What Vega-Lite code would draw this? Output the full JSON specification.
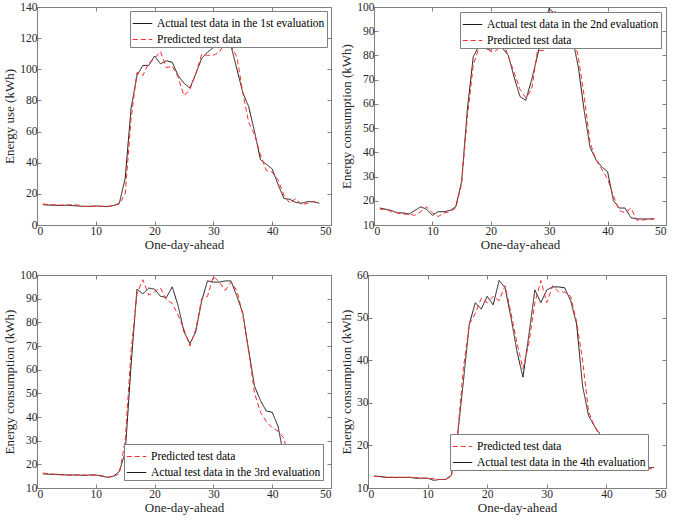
{
  "$schema": "https://vega.github.io/schema/vega-lite/v6.json",
  "background": "white",
  "padding": {"left": 3, "top": 0, "right": 0, "bottom": 2},
  "config": {
    "font": "Liberation Serif, Times New Roman, serif",
    "view": {"stroke": "#808080", "strokeWidth": 1},
    "style": {
      "guide-label": {"font": "Liberation Serif, Times New Roman, serif"},
      "guide-title": {"font": "Liberation Serif, Times New Roman, serif", "fontWeight": "normal"}
    },
    "axis": {
      "domain": false, "grid": false, "tickSize": -4, "tickColor": "#808080",
      "labelFont": "Liberation Serif, Times New Roman, serif", "labelFontSize": 11.5, "labelColor": "#262626",
      "titleFont": "Liberation Serif, Times New Roman, serif", "titleFontSize": 13, "titleFontWeight": "normal", "titleColor": "#262626",
      "labelPadding": 4
    },
    "legend": {
      "labelFont": "Liberation Serif, Times New Roman, serif", "labelFontSize": 11.5, "labelColor": "#000000",
      "fillColor": "white", "strokeColor": "#808080", "padding": 2, "rowPadding": 0,
      "symbolType": "stroke", "symbolSize": 380, "symbolStrokeWidth": 1.2, "title": null, "labelLimit": 300
    },
    "text": {"font": "Liberation Serif, Times New Roman, serif"}
  },
  "datasets": {
    "p1": [
      {"x":1,"s":"A","v":13},{"x":2,"s":"A","v":12.8},{"x":3,"s":"A","v":12.7},{"x":4,"s":"A","v":12.5},{"x":5,"s":"A","v":12.7},{"x":6,"s":"A","v":12.5},{"x":7,"s":"A","v":12.2},{"x":8,"s":"A","v":12},{"x":9,"s":"A","v":12},{"x":10,"s":"A","v":12.2},{"x":11,"s":"A","v":12},{"x":12,"s":"A","v":11.8},{"x":13,"s":"A","v":12.5},{"x":14,"s":"A","v":14},{"x":15,"s":"A","v":30},{"x":16,"s":"A","v":75},{"x":17,"s":"A","v":96},{"x":18,"s":"A","v":102.5},{"x":19,"s":"A","v":102.5},{"x":20,"s":"A","v":108.5},{"x":21,"s":"A","v":103.5},{"x":22,"s":"A","v":105.5},{"x":23,"s":"A","v":104.5},{"x":24,"s":"A","v":96},{"x":25,"s":"A","v":91},{"x":26,"s":"A","v":88},{"x":27,"s":"A","v":97},{"x":28,"s":"A","v":107},{"x":29,"s":"A","v":111},{"x":30,"s":"A","v":114},{"x":31,"s":"A","v":118},{"x":32,"s":"A","v":121},{"x":33,"s":"A","v":115},{"x":34,"s":"A","v":100},{"x":35,"s":"A","v":85},{"x":36,"s":"A","v":76},{"x":37,"s":"A","v":60},{"x":38,"s":"A","v":42},{"x":39,"s":"A","v":39},{"x":40,"s":"A","v":36},{"x":41,"s":"A","v":26},{"x":42,"s":"A","v":17},{"x":43,"s":"A","v":16.5},{"x":44,"s":"A","v":14.5},{"x":45,"s":"A","v":14},{"x":46,"s":"A","v":15},{"x":47,"s":"A","v":15},{"x":48,"s":"A","v":14},
      {"x":1,"s":"P","v":13.5},{"x":2,"s":"P","v":13},{"x":3,"s":"P","v":13},{"x":4,"s":"P","v":12.8},{"x":5,"s":"P","v":12.8},{"x":6,"s":"P","v":13},{"x":7,"s":"P","v":12.8},{"x":8,"s":"P","v":11.8},{"x":9,"s":"P","v":12},{"x":10,"s":"P","v":12},{"x":11,"s":"P","v":12},{"x":12,"s":"P","v":12},{"x":13,"s":"P","v":12.5},{"x":14,"s":"P","v":13.5},{"x":15,"s":"P","v":20},{"x":16,"s":"P","v":68},{"x":17,"s":"P","v":98},{"x":18,"s":"P","v":96},{"x":19,"s":"P","v":104},{"x":20,"s":"P","v":107},{"x":21,"s":"P","v":111.5},{"x":22,"s":"P","v":101},{"x":23,"s":"P","v":102},{"x":24,"s":"P","v":95},{"x":25,"s":"P","v":83},{"x":26,"s":"P","v":87},{"x":27,"s":"P","v":97},{"x":28,"s":"P","v":109.5},{"x":29,"s":"P","v":109},{"x":30,"s":"P","v":109},{"x":31,"s":"P","v":111},{"x":32,"s":"P","v":117},{"x":33,"s":"P","v":115},{"x":34,"s":"P","v":108},{"x":35,"s":"P","v":85},{"x":36,"s":"P","v":66},{"x":37,"s":"P","v":58},{"x":38,"s":"P","v":45},{"x":39,"s":"P","v":35},{"x":40,"s":"P","v":34},{"x":41,"s":"P","v":29},{"x":42,"s":"P","v":19},{"x":43,"s":"P","v":14},{"x":44,"s":"P","v":17},{"x":45,"s":"P","v":13},{"x":46,"s":"P","v":14},{"x":47,"s":"P","v":15},{"x":48,"s":"P","v":14}
    ],
    "p2": [
      {"x":1,"s":"A","v":17},{"x":2,"s":"A","v":16.5},{"x":3,"s":"A","v":16},{"x":4,"s":"A","v":15},{"x":5,"s":"A","v":15},{"x":6,"s":"A","v":14.5},{"x":7,"s":"A","v":16},{"x":8,"s":"A","v":17.5},{"x":9,"s":"A","v":16.5},{"x":10,"s":"A","v":14},{"x":11,"s":"A","v":15.5},{"x":12,"s":"A","v":15.5},{"x":13,"s":"A","v":16},{"x":14,"s":"A","v":17.5},{"x":15,"s":"A","v":28},{"x":16,"s":"A","v":58},{"x":17,"s":"A","v":79.5},{"x":18,"s":"A","v":84},{"x":19,"s":"A","v":83},{"x":20,"s":"A","v":82},{"x":21,"s":"A","v":85.5},{"x":22,"s":"A","v":83},{"x":23,"s":"A","v":80},{"x":24,"s":"A","v":71},{"x":25,"s":"A","v":63},{"x":26,"s":"A","v":61.5},{"x":27,"s":"A","v":70},{"x":28,"s":"A","v":80},{"x":29,"s":"A","v":91},{"x":30,"s":"A","v":99.5},{"x":31,"s":"A","v":97},{"x":32,"s":"A","v":96},{"x":33,"s":"A","v":91},{"x":34,"s":"A","v":87},{"x":35,"s":"A","v":75},{"x":36,"s":"A","v":57},{"x":37,"s":"A","v":42},{"x":38,"s":"A","v":37},{"x":39,"s":"A","v":34},{"x":40,"s":"A","v":32},{"x":41,"s":"A","v":20},{"x":42,"s":"A","v":17},{"x":43,"s":"A","v":17},{"x":44,"s":"A","v":13},{"x":45,"s":"A","v":12.5},{"x":46,"s":"A","v":12.5},{"x":47,"s":"A","v":12.5},{"x":48,"s":"A","v":12.5},
      {"x":1,"s":"P","v":16.5},{"x":2,"s":"P","v":16.5},{"x":3,"s":"P","v":15.5},{"x":4,"s":"P","v":15},{"x":5,"s":"P","v":14.5},{"x":6,"s":"P","v":14.5},{"x":7,"s":"P","v":14},{"x":8,"s":"P","v":15.5},{"x":9,"s":"P","v":17.5},{"x":10,"s":"P","v":15},{"x":11,"s":"P","v":13.5},{"x":12,"s":"P","v":15},{"x":13,"s":"P","v":15.5},{"x":14,"s":"P","v":17},{"x":15,"s":"P","v":27},{"x":16,"s":"P","v":55},{"x":17,"s":"P","v":76},{"x":18,"s":"P","v":83.5},{"x":19,"s":"P","v":85.5},{"x":20,"s":"P","v":81.5},{"x":21,"s":"P","v":82},{"x":22,"s":"P","v":86.5},{"x":23,"s":"P","v":79.5},{"x":24,"s":"P","v":73},{"x":25,"s":"P","v":66},{"x":26,"s":"P","v":62.5},{"x":27,"s":"P","v":66},{"x":28,"s":"P","v":82},{"x":29,"s":"P","v":82},{"x":30,"s":"P","v":98},{"x":31,"s":"P","v":98},{"x":32,"s":"P","v":97},{"x":33,"s":"P","v":92},{"x":34,"s":"P","v":90},{"x":35,"s":"P","v":79},{"x":36,"s":"P","v":63},{"x":37,"s":"P","v":44},{"x":38,"s":"P","v":37},{"x":39,"s":"P","v":33},{"x":40,"s":"P","v":29},{"x":41,"s":"P","v":22},{"x":42,"s":"P","v":16},{"x":43,"s":"P","v":15},{"x":44,"s":"P","v":17},{"x":45,"s":"P","v":12},{"x":46,"s":"P","v":12},{"x":47,"s":"P","v":12.5},{"x":48,"s":"P","v":12.5}
    ],
    "p3": [
      {"x":1,"s":"A","v":16},{"x":2,"s":"A","v":15.8},{"x":3,"s":"A","v":15.8},{"x":4,"s":"A","v":15.7},{"x":5,"s":"A","v":15.5},{"x":6,"s":"A","v":15.5},{"x":7,"s":"A","v":15.5},{"x":8,"s":"A","v":15.3},{"x":9,"s":"A","v":15.5},{"x":10,"s":"A","v":15.5},{"x":11,"s":"A","v":15},{"x":12,"s":"A","v":14.5},{"x":13,"s":"A","v":15},{"x":14,"s":"A","v":17},{"x":15,"s":"A","v":25},{"x":16,"s":"A","v":62},{"x":17,"s":"A","v":94},{"x":18,"s":"A","v":92},{"x":19,"s":"A","v":94.5},{"x":20,"s":"A","v":94},{"x":21,"s":"A","v":91},{"x":22,"s":"A","v":90.5},{"x":23,"s":"A","v":95},{"x":24,"s":"A","v":87},{"x":25,"s":"A","v":76},{"x":26,"s":"A","v":71},{"x":27,"s":"A","v":76},{"x":28,"s":"A","v":89},{"x":29,"s":"A","v":97.5},{"x":30,"s":"A","v":97},{"x":31,"s":"A","v":97},{"x":32,"s":"A","v":97.5},{"x":33,"s":"A","v":97.5},{"x":34,"s":"A","v":91},{"x":35,"s":"A","v":84},{"x":36,"s":"A","v":68},{"x":37,"s":"A","v":53},{"x":38,"s":"A","v":47},{"x":39,"s":"A","v":42.5},{"x":40,"s":"A","v":42},{"x":41,"s":"A","v":36},{"x":42,"s":"A","v":23},{"x":43,"s":"A","v":18},{"x":44,"s":"A","v":16},{"x":45,"s":"A","v":15.5},{"x":46,"s":"A","v":15},{"x":47,"s":"A","v":15},{"x":48,"s":"A","v":15},
      {"x":1,"s":"P","v":16.3},{"x":2,"s":"P","v":16},{"x":3,"s":"P","v":15.8},{"x":4,"s":"P","v":15.5},{"x":5,"s":"P","v":15.5},{"x":6,"s":"P","v":15.3},{"x":7,"s":"P","v":15.5},{"x":8,"s":"P","v":15.5},{"x":9,"s":"P","v":15.3},{"x":10,"s":"P","v":15.5},{"x":11,"s":"P","v":15.3},{"x":12,"s":"P","v":14.5},{"x":13,"s":"P","v":14.8},{"x":14,"s":"P","v":16},{"x":15,"s":"P","v":30},{"x":16,"s":"P","v":68},{"x":17,"s":"P","v":92},{"x":18,"s":"P","v":98},{"x":19,"s":"P","v":91.5},{"x":20,"s":"P","v":93},{"x":21,"s":"P","v":94.5},{"x":22,"s":"P","v":89.5},{"x":23,"s":"P","v":88},{"x":24,"s":"P","v":83},{"x":25,"s":"P","v":77},{"x":26,"s":"P","v":70},{"x":27,"s":"P","v":77},{"x":28,"s":"P","v":90},{"x":29,"s":"P","v":91},{"x":30,"s":"P","v":99.5},{"x":31,"s":"P","v":97},{"x":32,"s":"P","v":93.5},{"x":33,"s":"P","v":97},{"x":34,"s":"P","v":93.5},{"x":35,"s":"P","v":83},{"x":36,"s":"P","v":68},{"x":37,"s":"P","v":50},{"x":38,"s":"P","v":42},{"x":39,"s":"P","v":38},{"x":40,"s":"P","v":35.5},{"x":41,"s":"P","v":34},{"x":42,"s":"P","v":31},{"x":43,"s":"P","v":20},{"x":44,"s":"P","v":16},{"x":45,"s":"P","v":15},{"x":46,"s":"P","v":15},{"x":47,"s":"P","v":15},{"x":48,"s":"P","v":15}
    ],
    "p4": [
      {"x":1,"s":"A","v":12.8},{"x":2,"s":"A","v":12.7},{"x":3,"s":"A","v":12.5},{"x":4,"s":"A","v":12.5},{"x":5,"s":"A","v":12.5},{"x":6,"s":"A","v":12.5},{"x":7,"s":"A","v":12.5},{"x":8,"s":"A","v":12.3},{"x":9,"s":"A","v":12.3},{"x":10,"s":"A","v":12.3},{"x":11,"s":"A","v":11.8},{"x":12,"s":"A","v":12},{"x":13,"s":"A","v":12},{"x":14,"s":"A","v":13},{"x":15,"s":"A","v":22},{"x":16,"s":"A","v":35},{"x":17,"s":"A","v":48.5},{"x":18,"s":"A","v":53.5},{"x":19,"s":"A","v":52},{"x":20,"s":"A","v":55},{"x":21,"s":"A","v":53},{"x":22,"s":"A","v":58.7},{"x":23,"s":"A","v":57},{"x":24,"s":"A","v":50},{"x":25,"s":"A","v":42},{"x":26,"s":"A","v":36},{"x":27,"s":"A","v":46},{"x":28,"s":"A","v":56.5},{"x":29,"s":"A","v":53.5},{"x":30,"s":"A","v":56.5},{"x":31,"s":"A","v":57.2},{"x":32,"s":"A","v":57.2},{"x":33,"s":"A","v":57},{"x":34,"s":"A","v":54},{"x":35,"s":"A","v":48.5},{"x":36,"s":"A","v":34},{"x":37,"s":"A","v":27},{"x":38,"s":"A","v":24.5},{"x":39,"s":"A","v":22.5},{"x":40,"s":"A","v":19},{"x":41,"s":"A","v":17},{"x":42,"s":"A","v":16},{"x":43,"s":"A","v":15.5},{"x":44,"s":"A","v":15},{"x":45,"s":"A","v":15},{"x":46,"s":"A","v":14.8},{"x":47,"s":"A","v":14.8},{"x":48,"s":"A","v":14.8},
      {"x":1,"s":"P","v":12.7},{"x":2,"s":"P","v":12.7},{"x":3,"s":"P","v":12.5},{"x":4,"s":"P","v":12.5},{"x":5,"s":"P","v":12.5},{"x":6,"s":"P","v":12.5},{"x":7,"s":"P","v":12.5},{"x":8,"s":"P","v":12.5},{"x":9,"s":"P","v":12.3},{"x":10,"s":"P","v":12.3},{"x":11,"s":"P","v":12.2},{"x":12,"s":"P","v":12},{"x":13,"s":"P","v":12},{"x":14,"s":"P","v":12.7},{"x":15,"s":"P","v":22},{"x":16,"s":"P","v":38},{"x":17,"s":"P","v":48.5},{"x":18,"s":"P","v":51},{"x":19,"s":"P","v":54.5},{"x":20,"s":"P","v":53.5},{"x":21,"s":"P","v":55},{"x":22,"s":"P","v":54},{"x":23,"s":"P","v":57.5},{"x":24,"s":"P","v":51},{"x":25,"s":"P","v":44},{"x":26,"s":"P","v":38},{"x":27,"s":"P","v":44},{"x":28,"s":"P","v":53.5},{"x":29,"s":"P","v":58.7},{"x":30,"s":"P","v":53.5},{"x":31,"s":"P","v":57.5},{"x":32,"s":"P","v":56},{"x":33,"s":"P","v":56},{"x":34,"s":"P","v":55},{"x":35,"s":"P","v":49},{"x":36,"s":"P","v":40},{"x":37,"s":"P","v":28},{"x":38,"s":"P","v":24.5},{"x":39,"s":"P","v":22},{"x":40,"s":"P","v":20},{"x":41,"s":"P","v":17},{"x":42,"s":"P","v":16},{"x":43,"s":"P","v":15.5},{"x":44,"s":"P","v":15},{"x":45,"s":"P","v":15},{"x":46,"s":"P","v":14.8},{"x":47,"s":"P","v":14.5},{"x":48,"s":"P","v":14.5}
    ]
  },
  "spacing": 16,
  "vconcat": [
    {
      "spacing": 8,
      "resolve": {"scale": {"x": "independent", "y": "independent", "color": "independent", "strokeDash": "independent"}, "legend": {"color": "independent", "strokeDash": "independent"}},
      "hconcat": [
        {
          "width": 294, "height": 218,
          "data": {"name": "p1"},
          "layer": [
            {"mark": {"type": "line", "strokeWidth": 1},
             "encoding": {
               "x": {"field": "x", "type": "quantitative", "scale": {"domain": [0, 50]}, "axis": {"title": "One-day-ahead", "values": [0,10,20,30,40,50], "titlePadding": 2}},
               "y": {"field": "v", "type": "quantitative", "scale": {"domain": [0, 140]}, "axis": {"title": "Energy use (kWh)", "values": [0,20,40,60,80,100,120,140], "titlePadding": 3}},
               "color": {"field": "s", "type": "nominal", "scale": {"domain": ["A", "P"], "range": ["#1a1a1a", "#ff2a2a"]},
                 "legend": {"orient": "top-right", "offset": 4, "labelExpr": "datum.value == 'A' ? 'Actual test data in the 1st evaluation' : 'Predicted test data'"}},
               "strokeDash": {"field": "s", "type": "nominal", "scale": {"domain": ["A", "P"], "range": [[1, 0], [5, 3]]},
                 "legend": {"orient": "top-right", "offset": 4, "labelExpr": "datum.value == 'A' ? 'Actual test data in the 1st evaluation' : 'Predicted test data'"}}
             }},
            {"mark": {"type": "line", "opacity": 0},
             "encoding": {
               "x": {"field": "x", "type": "quantitative", "axis": {"orient": "top", "labels": false, "title": null, "values": [0,10,20,30,40,50]}},
               "y": {"field": "v", "type": "quantitative", "axis": {"orient": "right", "labels": false, "title": null, "values": [0,20,40,60,80,100,120,140]}},
               "detail": {"field": "s"}
             }}
          ],
          "resolve": {"axis": {"x": "independent", "y": "independent"}}
        },
        {
          "width": 292, "height": 218,
          "data": {"name": "p2"},
          "layer": [
            {"mark": {"type": "line", "strokeWidth": 1},
             "encoding": {
               "x": {"field": "x", "type": "quantitative", "scale": {"domain": [0, 50]}, "axis": {"title": "One-day-ahead", "values": [0,10,20,30,40,50], "titlePadding": 2}},
               "y": {"field": "v", "type": "quantitative", "scale": {"domain": [10, 100]}, "axis": {"title": "Energy consumption (kWh)", "values": [10,20,30,40,50,60,70,80,90,100], "titlePadding": 3}},
               "color": {"field": "s", "type": "nominal", "scale": {"domain": ["A", "P"], "range": ["#1a1a1a", "#ff2a2a"]},
                 "legend": {"orient": "top-right", "offset": 5, "labelExpr": "datum.value == 'A' ? 'Actual test data in the 2nd evaluation' : 'Predicted test data'"}},
               "strokeDash": {"field": "s", "type": "nominal", "scale": {"domain": ["A", "P"], "range": [[1, 0], [5, 3]]},
                 "legend": {"orient": "top-right", "offset": 5, "labelExpr": "datum.value == 'A' ? 'Actual test data in the 2nd evaluation' : 'Predicted test data'"}}
             }},
            {"mark": {"type": "line", "opacity": 0},
             "encoding": {
               "x": {"field": "x", "type": "quantitative", "axis": {"orient": "top", "labels": false, "title": null, "values": [0,10,20,30,40,50]}},
               "y": {"field": "v", "type": "quantitative", "axis": {"orient": "right", "labels": false, "title": null, "values": [10,20,30,40,50,60,70,80,90,100]}},
               "detail": {"field": "s"}
             }}
          ],
          "resolve": {"axis": {"x": "independent", "y": "independent"}}
        }
      ]
    },
    {
      "spacing": 8,
      "resolve": {"scale": {"x": "independent", "y": "independent", "color": "independent", "strokeDash": "independent"}, "legend": {"color": "independent", "strokeDash": "independent"}},
      "hconcat": [
        {
          "width": 294, "height": 213,
          "data": {"name": "p3"},
          "layer": [
            {"mark": {"type": "line", "strokeWidth": 1},
             "encoding": {
               "x": {"field": "x", "type": "quantitative", "scale": {"domain": [0, 50]}, "axis": {"title": "One-day-ahead", "values": [0,10,20,30,40,50], "titlePadding": 2}},
               "y": {"field": "v", "type": "quantitative", "scale": {"domain": [10, 100]}, "axis": {"title": "Energy consumption (kWh)", "values": [10,20,30,40,50,60,70,80,90,100], "titlePadding": 3}},
               "color": {"field": "s", "type": "nominal", "scale": {"domain": ["P", "A"], "range": ["#ff2a2a", "#1a1a1a"]},
                 "legend": {"orient": "bottom-right", "offset": 8, "labelExpr": "datum.value == 'A' ? 'Actual test data in the 3rd evaluation' : 'Predicted test data'"}},
               "strokeDash": {"field": "s", "type": "nominal", "scale": {"domain": ["P", "A"], "range": [[5, 3], [1, 0]]},
                 "legend": {"orient": "bottom-right", "offset": 8, "labelExpr": "datum.value == 'A' ? 'Actual test data in the 3rd evaluation' : 'Predicted test data'"}}
             }},
            {"mark": {"type": "line", "opacity": 0},
             "encoding": {
               "x": {"field": "x", "type": "quantitative", "axis": {"orient": "top", "labels": false, "title": null, "values": [0,10,20,30,40,50]}},
               "y": {"field": "v", "type": "quantitative", "axis": {"orient": "right", "labels": false, "title": null, "values": [10,20,30,40,50,60,70,80,90,100]}},
               "detail": {"field": "s"}
             }}
          ],
          "resolve": {"axis": {"x": "independent", "y": "independent"}}
        },
        {
          "width": 298, "height": 213,
          "data": {"name": "p4"},
          "layer": [
            {"mark": {"type": "line", "strokeWidth": 1},
             "encoding": {
               "x": {"field": "x", "type": "quantitative", "scale": {"domain": [0, 50]}, "axis": {"title": "One-day-ahead", "values": [0,10,20,30,40,50], "titlePadding": 2}},
               "y": {"field": "v", "type": "quantitative", "scale": {"domain": [10, 60]}, "axis": {"title": "Energy consumption (kWh)", "values": [10,20,30,40,50,60], "titlePadding": 3}},
               "color": {"field": "s", "type": "nominal", "scale": {"domain": ["P", "A"], "range": ["#ff2a2a", "#1a1a1a"]},
                 "legend": {"orient": "bottom-right", "offset": 18, "labelExpr": "datum.value == 'A' ? 'Actual test data in the 4th evaluation' : 'Predicted test data'"}},
               "strokeDash": {"field": "s", "type": "nominal", "scale": {"domain": ["P", "A"], "range": [[5, 3], [1, 0]]},
                 "legend": {"orient": "bottom-right", "offset": 18, "labelExpr": "datum.value == 'A' ? 'Actual test data in the 4th evaluation' : 'Predicted test data'"}}
             }},
            {"mark": {"type": "line", "opacity": 0},
             "encoding": {
               "x": {"field": "x", "type": "quantitative", "axis": {"orient": "top", "labels": false, "title": null, "values": [0,10,20,30,40,50]}},
               "y": {"field": "v", "type": "quantitative", "axis": {"orient": "right", "labels": false, "title": null, "values": [10,20,30,40,50,60]}},
               "detail": {"field": "s"}
             }}
          ],
          "resolve": {"axis": {"x": "independent", "y": "independent"}}
        }
      ]
    }
  ]
}
